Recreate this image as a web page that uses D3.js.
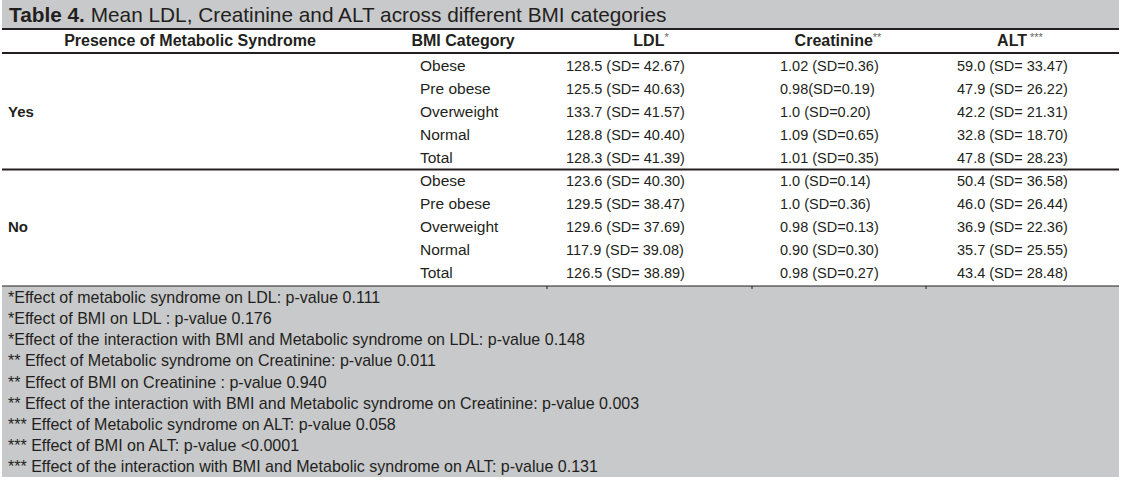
<!DOCTYPE html>
<html>
<head>
<meta charset="utf-8">
<script src="https://cdn.jsdelivr.net/npm/d3@7"></script>
<style>
  body { margin: 0; background: #fff; }
  svg { display: block; }
  text { font-family: "Liberation Sans", Arial, sans-serif; fill: #231f20; }
</style>
</head>
<body>
<svg id="table-svg"></svg>
<script>
const size = { width: 1122, height: 486 }

const titleBold = 'Table 4.'
const titleRest = ' Mean LDL, Creatinine and ALT across different BMI categories'

const headers = ['Presence of Metabolic Syndrome', 'BMI Category', 'LDL', 'Creatinine', 'ALT']
const headerMarks = ['', '', '*', '**', ' ***']
const groups = ['Yes', 'No']
const bmiCategories = ['Obese', 'Pre obese', 'Overweight', 'Normal', 'Total']

const ldlYes = ['128.5 (SD= 42.67)', '125.5 (SD= 40.63)', '133.7 (SD= 41.57)', '128.8 (SD= 40.40)', '128.3 (SD= 41.39)']
const creatYes = ['1.02 (SD=0.36)', '0.98(SD=0.19)', '1.0 (SD=0.20)', '1.09 (SD=0.65)', '1.01 (SD=0.35)']
const altYes = ['59.0 (SD= 33.47)', '47.9 (SD= 26.22)', '42.2 (SD= 21.31)', '32.8 (SD= 18.70)', '47.8 (SD= 28.23)']

const ldlNo = ['123.6 (SD= 40.30)', '129.5 (SD= 38.47)', '129.6 (SD= 37.69)', '117.9 (SD= 39.08)', '126.5 (SD= 38.89)']
const creatNo = ['1.0 (SD=0.14)', '1.0 (SD=0.36)', '0.98 (SD=0.13)', '0.90 (SD=0.30)', '0.98 (SD=0.27)']
const altNo = ['50.4 (SD= 36.58)', '46.0 (SD= 26.44)', '36.9 (SD= 22.36)', '35.7 (SD= 25.55)', '43.4 (SD= 28.48)']

const footnotes = [
  '*Effect of metabolic syndrome on LDL: p-value 0.111',
  '*Effect of BMI on LDL : p-value 0.176',
  '*Effect of the interaction with BMI and Metabolic syndrome on LDL: p-value 0.148',
  '** Effect of Metabolic syndrome on Creatinine: p-value 0.011',
  '** Effect of BMI on Creatinine : p-value 0.940',
  '** Effect of the interaction with BMI and Metabolic syndrome on Creatinine: p-value 0.003',
  '*** Effect of Metabolic syndrome on ALT: p-value 0.058',
  '*** Effect of BMI on ALT: p-value <0.0001',
  '*** Effect of the interaction with BMI and Metabolic syndrome on ALT: p-value 0.131'
]

// build rows from the small arrays above
const rows = []
groups.forEach((g, gi) => {
  const ldl = gi === 0 ? ldlYes : ldlNo
  const cr = gi === 0 ? creatYes : creatNo
  const alt = gi === 0 ? altYes : altNo
  bmiCategories.forEach((c, i) => {
    rows.push({ key: g + '-' + c, group: g, cells: [c, ldl[i], cr[i], alt[i]] })
  })
})

const gray = '#c8c9cb'
const ink = '#231f20'
const left = 2, right = 1119

const svg = d3.select('#table-svg')
  .attr('width', size.width)
  .attr('height', size.height)

// row positions
const yRow = d3.scalePoint().domain(rows.map(r => r.key)).range([66, 273])
const yNote = d3.scalePoint().domain(d3.range(footnotes.length)).range([297, 466])

// column header centres and cell left edges
const xHead = d3.scaleOrdinal().domain(headers).range([190, 463, 651, 838, 1020])
const xCell = d3.scaleOrdinal().domain(d3.range(4)).range([420, 566, 780, 957])

// title bar
svg.append('rect').attr('x', left).attr('y', 0).attr('width', right - left).attr('height', 28).attr('fill', gray)
const title = svg.append('text').attr('x', 9).attr('y', 22).style('font-size', '20.8px')
title.append('tspan').attr('font-weight', 'bold').text(titleBold)
title.append('tspan').text(titleRest)

// footnote panel
const noteTop = 286
svg.append('rect').attr('x', left).attr('y', noteTop).attr('width', right - left).attr('height', 477 - noteTop).attr('fill', gray)

// rules
const rule = (y, w) => svg.append('line')
  .attr('x1', left).attr('x2', right).attr('y1', y).attr('y2', y)
  .attr('stroke', ink).attr('stroke-width', w)
rule(29, 2)
rule(53, 2)
rule((yRow('Yes-Total') + yRow('No-Obese')) / 2, 2)
rule(noteTop, 1)

// small column ticks on the lower rule
svg.selectAll('.tick').data([547, 752, 926]).enter().append('line')
  .attr('x1', d => d).attr('x2', d => d).attr('y1', noteTop).attr('y2', noteTop + 3)
  .attr('stroke', ink).attr('stroke-width', 1)

// headers
const head = svg.selectAll('.head').data(headers).enter().append('text')
  .attr('class', 'head')
  .attr('x', d => xHead(d))
  .attr('y', 46)
  .attr('text-anchor', 'middle')
  .attr('font-weight', 'bold')
  .style('font-size', '16px')
head.append('tspan').text(d => d)
head.append('tspan')
  .attr('font-weight', 'normal')
  .attr('dy', -5)
  .style('font-size', '11px')
  .style('fill', '#666')
  .text((d, i) => headerMarks[i])

// group labels
svg.selectAll('.group').data(groups).enter().append('text')
  .attr('class', 'group')
  .attr('x', 8)
  .attr('y', g => yRow(g + '-Overweight') + 5)
  .attr('font-weight', 'bold')
  .style('font-size', '15px')
  .text(d => d)

// body cells (category names print a touch wider than the numbers)
const rowG = svg.selectAll('.row').data(rows).enter().append('g')
  .attr('class', 'row')
  .attr('transform', d => `translate(0,${yRow(d.key) + 5})`)
rowG.selectAll('text').data(d => d.cells).enter().append('text')
  .attr('x', (d, i) => xCell(i))
  .style('font-size', (d, i) => i === 0 ? '15.5px' : '14.5px')
  .text(d => d)

// footnotes: condensed look, squeezed so the third line ends near x=585
const notes = svg.selectAll('.note').data(footnotes).enter().append('text')
  .attr('class', 'note')
  .attr('x', 0)
  .attr('y', 0)
  .style('font-size', '17px')
  .text(d => d)
const refLen = notes.nodes()[2].getComputedTextLength()
const squeeze = (585 - 8) / refLen
notes.attr('transform', (d, i) => `translate(8,${yNote(i) + 6}) scale(${squeeze},1)`)
</script>
</body>
</html>
